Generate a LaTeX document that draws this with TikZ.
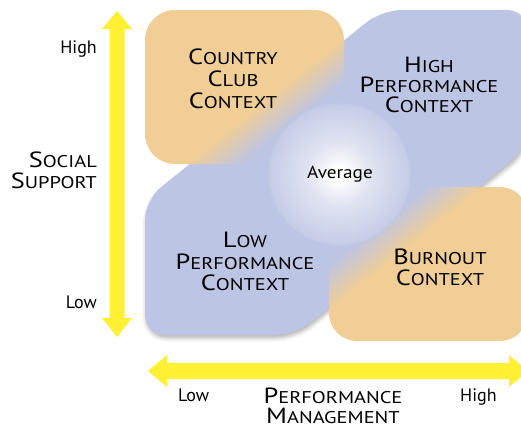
\documentclass[tikz,border=0pt]{standalone}
\usepackage{fontspec}
\setmainfont{PT Sans}
\newfontfamily\capfont{PT Sans}[FakeStretch=1.2]
\newfontfamily\avgfont{PT Sans}[FakeStretch=1.1]
\usetikzlibrary{shadows.blur}
\definecolor{orangeC}{RGB}{240,206,150}
\definecolor{blueC}{RGB}{189,197,228}
\definecolor{yellowC}{RGB}{255,240,50}
\definecolor{glowMid}{RGB}{224,227,241}
\definecolor{glowEdge}{RGB}{198,205,231}
\newcommand\fsc[2]{#1{\fontsize{17}{17}\selectfont #2}}
\pgfdeclareradialshading{glowshade}{\pgfpoint{0bp}{0bp}}{color(0bp)=(white); color(3bp)=(white!96!blueC); color(11bp)=(glowMid); color(24bp)=(glowEdge); color(25bp)=(blueC); color(50bp)=(blueC)}
\begin{document}
\begin{tikzpicture}[x=1pt,y=-1pt,
  lbl/.style={font=\capfont\fontsize{22}{22}\selectfont, align=center, inner sep=0pt, text=black},
  sidelbl/.style={font=\capfont\fontsize{22}{21}\selectfont, align=right, inner sep=0pt, text=black},
  small/.style={font=\fontsize{18}{18}\selectfont, inner sep=0pt, text=black},
  arrowfill/.style={fill=yellowC, draw=none},
  band/.style={fill=blueC, draw=none, rounded corners=20pt,
     blur shadow={shadow xshift=1pt, shadow yshift=-3pt, shadow blur radius=4pt, shadow opacity=30}}]
\useasboundingbox (0,0) rectangle (521,428);
\clip (0,0) rectangle (521,428);

% diagonal blue band
\path[band] (145,200) -- (382,10) -- (527,10) -- (527,148) -- (295,335) -- (145,335) -- cycle;

% Country club box with fade into band
\begin{scope}
  \clip[rounded corners=30pt] (145,10) rectangle (344,164);
  \fill[orangeC] (145,10) rectangle (344,164);
  \begin{scope}[shift={(382,10)}, rotate=38.66]
    \foreach \i in {0,...,17}{
      \pgfmathsetmacro\p{100-100*(\i+0.5)/18}
      \fill[orangeC!\p!blueC] (-400,{2*\i-2}) rectangle (400,{2*\i+2.3});
    }
    \fill[blueC] (-400,36) rectangle (400,400);
  \end{scope}
\end{scope}

% Burnout box with fade into band
\begin{scope}
  \clip[rounded corners=28pt] (329,187) rectangle (528,341);
  \fill[orangeC] (329,187) rectangle (528,341);
  \begin{scope}[shift={(295,335)}, rotate=38.66]
    \foreach \i in {0,...,17}{
      \pgfmathsetmacro\p{100-100*(\i+0.5)/18}
      \fill[orangeC!\p!blueC] (-400,{-2*\i+2}) rectangle (400,{-2*\i-2.3});
    }
    \fill[blueC] (-400,-36) rectangle (400,-400);
  \end{scope}
\end{scope}

% average glow
\shade[shading=glowshade] (339,174) circle (72);

% yellow arrows
\fill[arrowfill] (117,11) -- (132,29) -- (124.5,29) -- (124.5,318) -- (132,318) -- (117,337)
  -- (102,318) -- (109.5,318) -- (109.5,29) -- (102,29) -- cycle;
\fill[arrowfill] (148,371) -- (167,355) -- (167,363) -- (509,363) -- (509,355) -- (528,371)
  -- (509,387) -- (509,379) -- (167,379) -- (167,387) -- cycle;

% texts
\node[lbl] (cc) at (233,79) {\fsc{C}{OUNTRY}\\\fsc{C}{LUB}\\\fsc{C}{ONTEXT}};
\node[lbl, font=\capfont\fontsize{22}{20}\selectfont] (hp) at (429,85) {\fsc{H}{IGH}\\\fsc{P}{ERFORMANCE}\\\fsc{C}{ONTEXT}};
\node[lbl, font=\capfont\fontsize{22}{21.5}\selectfont] (lp) at (245,261.5) {\fsc{L}{OW}\\\fsc{P}{ERFORMANCE}\\\fsc{C}{ONTEXT}};
\node[lbl, font=\capfont\fontsize{22}{21}\selectfont] (bo) at (440,267.5) {\fsc{B}{URNOUT}\\\fsc{C}{ONTEXT}};
\node[small, anchor=base, font=\avgfont\fontsize{17.5}{17.5}\selectfont] (avg) at (340,178) {Average};

\node[sidelbl, anchor=east] (ss) at (97,170) {\fsc{S}{OCIAL}\\\fsc{S}{UPPORT}};
\node[small, anchor=base east] (yhi) at (97,53) {High};
\node[small, anchor=base east] (ylo) at (97,308) {Low};

\node[lbl, font=\capfont\fontsize{22}{20}\selectfont] (pm) at (333,405.5) {\fsc{P}{ERFORMANCE}\\\fsc{M}{ANAGEMENT}};
\node[small, anchor=base west] (xlo) at (178,401) {Low};
\node[small, anchor=base west] (xhi) at (460,401) {High};
\end{tikzpicture}
\end{document}
